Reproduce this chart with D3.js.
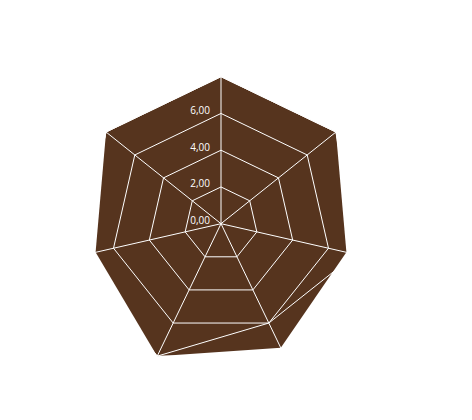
<!DOCTYPE html>
<html>
<head>
<meta charset="utf-8">
<script src="https://cdn.jsdelivr.net/npm/d3@7"></script>
<style>
  html, body { margin: 0; padding: 0; background: #ffffff; }
  svg { display: block; }
</style>
</head>
<body>
<svg id="chart" width="472" height="420"></svg>
<script>
// ---- data ----
const categories = ["A", "B", "C", "D", "E", "F", "G"];
const seriesFilled = [8, 8, 7, 7.5, 8, 7, 8];
const seriesOutline = [8, 8, 7.5, 6, 8, 8, 8];
const tickValues = [0, 2, 4, 6, 8];
const tickLabels = ["0,00", "2,00", "4,00", "6,00", "8,00"];

// ---- layout ----
const W = 472, H = 420;
const cx = 221, cy = 223.7, R = 147;
const brown = "#56341e";
const gridColor = "#ffffff";

const svg = d3.select("#chart");
const g = svg.append("g").attr("transform", `translate(${cx},${cy})`);

const r = d3.scaleLinear().domain([0, 8]).range([0, R]);
const angle = d3.scaleLinear().domain([0, categories.length]).range([0, 2 * Math.PI]);

const radial = d3.lineRadial()
  .angle((d, i) => angle(i))
  .radius(d => r(d))
  .curve(d3.curveLinearClosed);

// filled series
g.append("path")
  .datum(seriesFilled)
  .attr("d", radial)
  .attr("fill", brown)
  .attr("stroke", "none");

// grid rings
tickValues.filter(v => v > 0).forEach(v => {
  g.append("path")
    .datum(categories.map(() => v))
    .attr("d", radial)
    .attr("fill", "none")
    .attr("stroke", gridColor)
    .attr("stroke-width", 1);
});

// spokes
categories.forEach((c, i) => {
  const a = angle(i);
  g.append("line")
    .attr("x1", 0).attr("y1", 0)
    .attr("x2", Math.sin(a) * r(8))
    .attr("y2", -Math.cos(a) * r(8))
    .attr("stroke", gridColor)
    .attr("stroke-width", 1);
});

// outline series
g.append("path")
  .datum(seriesOutline)
  .attr("d", radial)
  .attr("fill", "none")
  .attr("stroke", gridColor)
  .attr("stroke-width", 1);

// tick labels
tickValues.forEach((v, i) => {
  g.append("text")
    .attr("x", -11)
    .attr("y", -r(v) + 0.5)
    .attr("text-anchor", "end")
    .attr("font-family", "'Open Sans', sans-serif")
    .attr("font-size", 10)
    .attr("fill", "#ffffff")
    .text(tickLabels[i]);
});
</script>
</body>
</html>
